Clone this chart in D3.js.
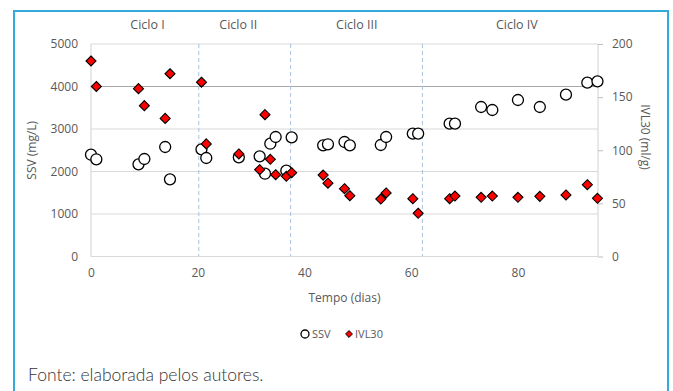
<!DOCTYPE html>
<html><head><meta charset="utf-8">
<script src="https://cdn.jsdelivr.net/npm/d3@7/dist/d3.min.js"></script>
<style>
body{margin:0;background:#fff;}
svg{display:block;font-family:"Open Sans","Liberation Sans",sans-serif;}
</style></head>
<body><svg id="c" width="673" height="391"></svg>
<script>
// Data
const days = [0, 1, 8.9, 10, 13.9, 14.8, 20.7, 21.6, 27.7, 31.6, 32.6, 33.6, 34.6, 36.6, 37.6,
  43.5, 44.4, 47.5, 48.5, 54.3, 55.3, 60.3, 61.3, 67.2, 68.2, 73.1, 75.2, 80, 84.1, 89, 93, 94.9];
const ssv = [2395, 2287, 2169, 2294, 2576, 1816, 2522, 2318, 2334, 2357, 1948, 2654, 2812, 2019, 2804,
  2616, 2640, 2694, 2616, 2624, 2812, 2890, 2890, 3125, 3125, 3518, 3447, 3682, 3518, 3808, 4090, 4122];
const ivl30 = [184, 160, 158, 142, 130, 172, 164, 106, 96.5, 81.7, 133.5, 91.5, 77, 75.5, 78.9,
  76.6, 69, 63.8, 57.2, 54.1, 59.8, 54.4, 40.7, 54.4, 56.9, 55.7, 56.9, 55.7, 56.6, 57.9, 67.6, 54.8];
const xTicks = [0, 20, 40, 60, 80];
const leftTicks = [0, 1000, 2000, 3000, 4000, 5000];
const rightTicks = [0, 50, 100, 150, 200];
const cycleBounds = [20.2, 37.4, 62.1];
const cycles = [{label:"Ciclo I", at:10.6}, {label:"Ciclo II", at:27.6}, {label:"Ciclo III", at:49.8}, {label:"Ciclo IV", at:79.8}];

const svg = d3.select("#c");
const L = 91, R = 598, T = 44, B = 256.5;
const x = d3.scaleLinear().domain([0, 95]).range([L, R]);
const yL = d3.scaleLinear().domain([0, 5000]).range([B, T]);
const yR = d3.scaleLinear().domain([0, 200]).range([B, T]);
const grey = "#595959";

// outer border
svg.append("rect").attr("x", 14).attr("y", 11).attr("width", 654).attr("height", 400)
  .attr("fill", "none").attr("stroke", "#33a9dc").attr("stroke-width", 2);

// gridlines
svg.append("g").selectAll("line").data(leftTicks.filter(d => d > 0)).join("line")
  .attr("x1", L).attr("x2", R).attr("y1", d => yL(d)).attr("y2", d => yL(d))
  .attr("stroke", d => d === 4000 ? "#a6a6a6" : "#d9d9d9").attr("stroke-width", 1.2);

// cycle boundaries
svg.append("g").selectAll("line").data(cycleBounds).join("line")
  .attr("x1", d => x(d)).attr("x2", d => x(d)).attr("y1", T).attr("y2", B)
  .attr("stroke", "#a9c2e2").attr("stroke-width", 1).attr("stroke-dasharray", "4,3");

// axes lines
svg.append("line").attr("x1", L).attr("x2", L).attr("y1", T).attr("y2", B).attr("stroke", "#d9d9d9").attr("stroke-width", 1.2);
svg.append("line").attr("x1", R).attr("x2", R).attr("y1", T).attr("y2", B).attr("stroke", "#d9d9d9").attr("stroke-width", 1.2);
svg.append("line").attr("x1", L).attr("x2", R).attr("y1", B).attr("y2", B).attr("stroke", "#d9d9d9").attr("stroke-width", 1.2);

// left axis
const gl = svg.append("g").attr("transform", `translate(${L},0)`)
  .call(d3.axisLeft(yL).tickValues(leftTicks).tickSize(0).tickPadding(13).tickFormat(d3.format("d")));
gl.select(".domain").remove();
gl.selectAll("text").attr("fill", grey).style("font-size", "12px").style("font-family", "Open Sans");

// right axis
const gr = svg.append("g").attr("transform", `translate(${R},0)`)
  .call(d3.axisRight(yR).tickValues(rightTicks).tickSize(5).tickPadding(9).tickFormat(d3.format("d")));
gr.select(".domain").remove();
gr.selectAll("line").attr("stroke", "#bfbfbf");
gr.selectAll("text").attr("fill", grey).style("font-size", "12px").style("font-family", "Open Sans");

// bottom axis
const gb = svg.append("g").attr("transform", `translate(0,${B})`)
  .call(d3.axisBottom(x).tickValues(xTicks).tickSize(0).tickPadding(12).tickFormat(d3.format("d")));
gb.select(".domain").remove();
gb.selectAll("text").attr("fill", grey).style("font-size", "12px").style("font-family", "Open Sans");

// axis titles
svg.append("text").attr("x", (L + R) / 2).attr("y", 302).attr("text-anchor", "middle")
  .attr("fill", grey).style("font-size", "12px").text("Tempo (dias)");
svg.append("text").attr("transform", `translate(36,${(T + B) / 2}) rotate(-90)`).attr("text-anchor", "middle")
  .attr("fill", grey).style("font-size", "12px").text("SSV (mg/L)");
svg.append("text").attr("transform", `translate(641,137) rotate(90)`).attr("text-anchor", "middle")
  .attr("fill", grey).style("font-size", "12px").text("IVL30 (ml/g)");

// cycle labels
svg.append("g").selectAll("text").data(cycles).join("text")
  .attr("x", d => x(d.at)).attr("y", 29).attr("text-anchor", "middle")
  .attr("fill", grey).style("font-size", "12.5px").text(d => d.label);

// SSV points
svg.append("g").selectAll("circle").data(days.map((d, i) => [d, ssv[i]])).join("circle")
  .attr("cx", d => x(d[0])).attr("cy", d => yL(d[1])).attr("r", 5.5)
  .attr("fill", "#fff").attr("stroke", "#000").attr("stroke-width", 1.3);

// IVL30 points
const diamond = d3.symbol().type(d3.symbolDiamond2).size(64);
svg.append("g").selectAll("path").data(days.map((d, i) => [d, ivl30[i]])).join("path")
  .attr("d", diamond).attr("transform", d => `translate(${x(d[0])},${yR(d[1])})`)
  .attr("fill", "#ff0000").attr("stroke", "#000").attr("stroke-width", 1.1);

// legend
const lg = svg.append("g");
lg.append("circle").attr("cx", 305).attr("cy", 334).attr("r", 4).attr("fill", "#fff").attr("stroke", "#000").attr("stroke-width", 1.3);
lg.append("text").attr("x", 312).attr("y", 338).attr("fill", grey).style("font-size", "11px").text("SSV");
lg.append("path").attr("d", d3.symbol().type(d3.symbolDiamond2).size(30)).attr("transform", "translate(349,334)")
  .attr("fill", "#ff0000").attr("stroke", "#000").attr("stroke-width", 1);
lg.append("text").attr("x", 355).attr("y", 338).attr("fill", grey).style("font-size", "11px").text("IVL30");

// source
svg.append("text").attr("x", 28).attr("y", 381).attr("fill", "#333")
  .style("font-family", "Lato").style("font-weight", 300).style("font-size", "17.5px").text("Fonte: elaborada pelos autores.");
</script></body></html>
